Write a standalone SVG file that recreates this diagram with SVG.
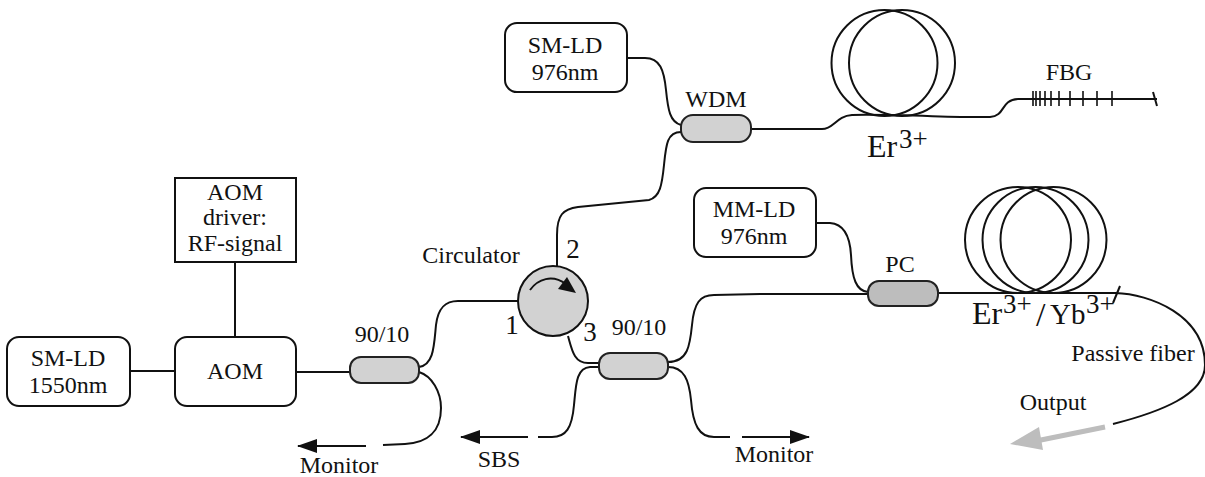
<svg xmlns="http://www.w3.org/2000/svg" width="1205" height="477" viewBox="0 0 1205 477">
<style>
text{font-family:"Liberation Serif","Times New Roman",serif;fill:#111;text-anchor:middle;font-size:24px}
.big{font-size:32px;text-anchor:start}
.sup{font-size:27px}
.num{font-size:27px}
.box{fill:#fff;stroke:#111;stroke-width:2}
.cp{fill:#d2d2d2;stroke:#222;stroke-width:2}
.f{fill:none;stroke:#111;stroke-width:2}
.c{fill:none;stroke:#111;stroke-width:1.6}
.coil{fill:none;stroke:#111;stroke-width:2}
</style>
<defs>
<marker id="ah" markerUnits="userSpaceOnUse" markerWidth="20" markerHeight="14" refX="19" refY="7" orient="auto"><path d="M0,0L20,7L0,14Z" fill="#111"/></marker>
</defs>
<rect width="1205" height="477" fill="#fff"/>
<g id="connectors">
<path class="f" d="M130,371H175"/>
<path class="f" d="M235,262V337"/>
<path class="f" d="M296,372H350"/>
<path class="f" d="M419,367C434,365 434,345 436,325C438,308 445,301 458,301H518"/>
<path class="f" d="M419,372C432,376 441,392 441,408C441,432 427,443 405,444L383,445"/>
<path class="f" d="M366,446H298" marker-end="url(#ah)"/>
<path class="f" d="M557,266V235C557,215 563,209 578,207L649,200C660,197 662,185 664,165C666,145 667,132 681,132"/>
<path class="f" d="M627,58H645C660,58 664,70 666,90C668,110 670,122 681,125"/>
<path class="f" d="M751,129H822C834,129 836,116 852,115C900,114 960,118 990,117C1006,116 1000,100 1018,99H1157"/>
<path class="f" d="M1153,92L1157,106"/>
<path class="c" d="M1033,91V106M1036,91V106M1040,91V106M1045,91V106M1051,91V106M1059,91V106M1070,91V106M1083,91V106M1097,91V106M1112,91V106"/>
<path class="f" d="M568,336C572,350 574,363 588,363H599"/>
<path class="f" d="M599,367H590C576,368 576,385 574,405C572,428 566,437 552,437H538"/>
<path class="f" d="M528,437H461" marker-end="url(#ah)"/>
<path class="f" d="M668,362C688,362 690,345 692,325C694,303 700,295 714,295L760,294H868"/>
<path class="f" d="M668,367C684,367 689,380 691,400C693,425 699,437 714,437H730"/>
<path class="f" d="M742,437H809" marker-end="url(#ah)"/>
<path class="f" d="M816,223H830C845,224 850,238 851,255C852,278 856,291 868,292"/>
<path class="f" d="M938,293H1115C1150,294 1205,315 1205,365C1205,395 1160,412 1113,424"/>
<path class="f" d="M1120,286L1113,303"/>
<path d="M1105,427L1036,441" fill="none" stroke="#bdbdbd" stroke-width="5"/>
<path d="M1010,444L1039,427L1043,450Z" fill="#bdbdbd"/>
</g>
<g id="sm-ld-976">
<rect class="box" x="505" y="23" width="122" height="69" rx="12"/>
<text x="565" y="53">SM-LD</text><text x="565" y="80">976nm</text>
</g>
<g id="mm-ld-976">
<rect class="box" x="694" y="188" width="122" height="69" rx="12"/>
<text x="754" y="217">MM-LD</text><text x="754" y="244">976nm</text>
</g>
<g id="aom-driver">
<rect class="box" x="175" y="178" width="121" height="84"/>
<text x="235" y="200">AOM</text><text x="235" y="225">driver:</text><text x="235" y="251">RF-signal</text>
</g>
<g id="aom">
<rect class="box" x="175" y="337" width="121" height="69" rx="12"/>
<text x="235" y="379">AOM</text>
</g>
<g id="sm-ld-1550">
<rect class="box" x="7" y="337" width="123" height="69" rx="12"/>
<text x="68" y="366">SM-LD</text><text x="68" y="393">1550nm</text>
</g>
<g id="wdm">
<rect class="cp" x="681" y="115" width="70" height="27" rx="12"/>
<text x="716" y="107">WDM</text>
</g>
<g id="coupler-1">
<rect class="cp" x="350" y="357" width="69" height="26" rx="11"/>
<text x="382" y="342">90/10</text>
</g>
<g id="coupler-2">
<rect class="cp" x="599" y="353" width="69" height="26" rx="11"/>
<text x="639" y="335">90/10</text>
</g>
<g id="pc">
<rect class="cp" x="868" y="281" width="70" height="25" rx="11" style="fill:#bdbdbd"/>
<text x="900" y="272">PC</text>
</g>
<g id="circulator">
<circle cx="553" cy="301" r="35" fill="#d2d2d2" stroke="#111" stroke-width="2"/>
<path d="M530,290C538,279 552,274 566,284" fill="none" stroke="#111" stroke-width="2"/>
<path d="M576,293L558,289L567,277Z" fill="#111"/>
<text x="471" y="263">Circulator</text>
<text class="num" x="573" y="258">2</text>
<text class="num" x="512" y="334">1</text>
<text class="num" x="590" y="341">3</text>
</g>
<g id="er-coil">
<circle class="coil" cx="884.5" cy="63" r="53"/>
<circle class="coil" cx="902" cy="63" r="53"/>
<text class="big" x="867" y="157">Er<tspan class="sup" x="899" y="148">3+</tspan></text>
</g>
<g id="fbg">
<text x="1069" y="80">FBG</text>
</g>
<g id="er-yb-coil">
<circle class="coil" cx="1018" cy="240" r="53"/>
<circle class="coil" cx="1035.5" cy="240" r="53"/>
<circle class="coil" cx="1053.5" cy="240" r="53"/>
<text class="big" x="972" y="324">Er<tspan class="sup" x="1003" y="313">3+</tspan><tspan x="1036" y="326" style="font-size:34px">/</tspan><tspan x="1050" y="324" style="font-size:29px">Yb</tspan><tspan class="sup" x="1086" y="313">3+</tspan></text>
</g>
<g id="labels">
<text x="1133" y="361">Passive fiber</text>
<text x="1053" y="410">Output</text>
<text x="339" y="473">Monitor</text>
<text x="499" y="467">SBS</text>
<text x="774" y="462">Monitor</text>
</g>
</svg>
